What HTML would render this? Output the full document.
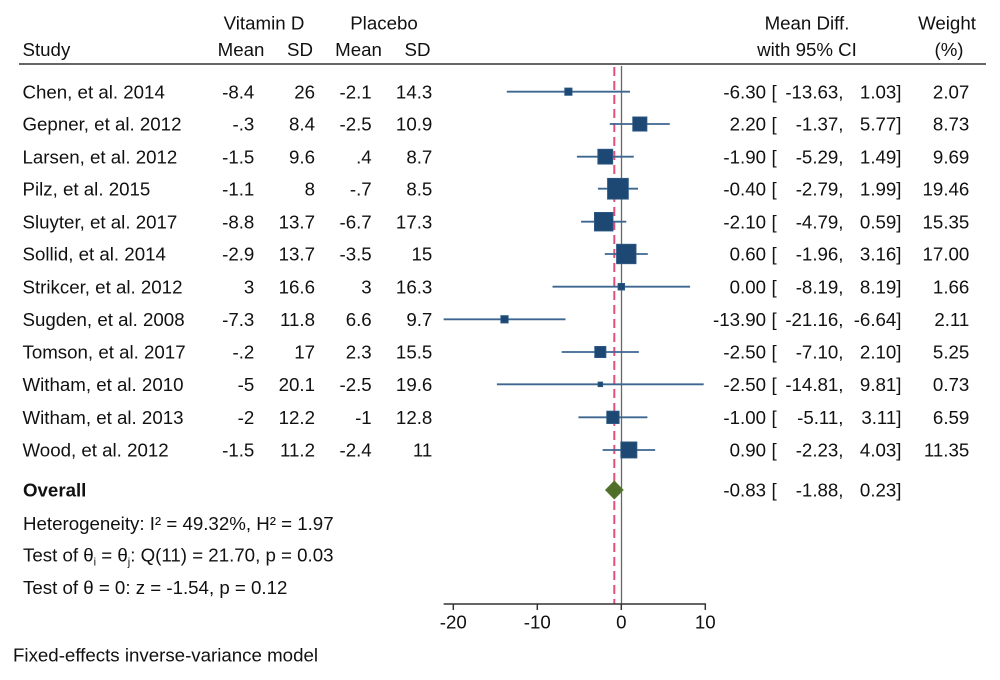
<!DOCTYPE html>
<html><head><meta charset="utf-8"><style>
html,body{margin:0;padding:0;background:#fff;}
svg{display:block;}
text{font-family:"Liberation Sans",Arial,sans-serif;font-size:18.7px;fill:#111;}
</style></head><body>
<svg width="1000" height="680" viewBox="0 0 1000 680" xmlns="http://www.w3.org/2000/svg">
<rect width="1000" height="680" fill="#fff"/>
<!-- headers -->
<text x="264" y="29.5" text-anchor="middle">Vitamin D</text>
<text x="384" y="29.5" text-anchor="middle">Placebo</text>
<text x="22.5" y="56">Study</text>
<text x="241" y="56" text-anchor="middle">Mean</text>
<text x="300" y="56" text-anchor="middle">SD</text>
<text x="358.5" y="56" text-anchor="middle">Mean</text>
<text x="417.5" y="56" text-anchor="middle">SD</text>
<text x="807" y="29.5" text-anchor="middle">Mean Diff.</text>
<text x="807" y="56" text-anchor="middle">with 95% CI</text>
<text x="947" y="29.5" text-anchor="middle">Weight</text>
<text x="949" y="56" text-anchor="middle">(%)</text>
<line x1="19" y1="64" x2="986" y2="64" stroke="#333" stroke-width="1.5"/>

<!-- reference lines -->
<line x1="621.5" y1="66" x2="621.5" y2="604" stroke="#666" stroke-width="1.3"/>
<line x1="614.3" y1="67" x2="614.3" y2="604" stroke="#e2507a" stroke-width="2" stroke-dasharray="9,5"/>

<!-- CI lines -->
<g stroke="#3d6690" stroke-width="1.8">
<line x1="506.8" y1="91.7" x2="630.0" y2="91.7"/>
<line x1="609.8" y1="124" x2="669.8" y2="124"/>
<line x1="576.9" y1="156.7" x2="633.8" y2="156.7"/>
<line x1="597.9" y1="188.7" x2="638.0" y2="188.7"/>
<line x1="581.1" y1="221.7" x2="626.3" y2="221.7"/>
<line x1="604.8" y1="254" x2="647.8" y2="254"/>
<line x1="552.5" y1="286.7" x2="690.1" y2="286.7"/>
<line x1="443.6" y1="319.3" x2="565.5" y2="319.3"/>
<line x1="561.7" y1="352" x2="638.9" y2="352"/>
<line x1="496.9" y1="384.3" x2="703.7" y2="384.3"/>
<line x1="578.4" y1="417.3" x2="647.4" y2="417.3"/>
<line x1="602.6" y1="450" x2="655.2" y2="450"/>
</g>
<!-- boxes -->
<g fill="#1d4873" stroke="#2f5b86" stroke-width="0.8">
<rect x="564.7" y="88.0" width="7.35" height="7.35"/>
<rect x="632.7" y="116.9" width="14.25" height="14.25"/>
<rect x="597.8" y="149.2" width="14.96" height="14.96"/>
<rect x="607.5" y="178.3" width="20.87" height="20.87"/>
<rect x="594.4" y="212.4" width="18.63" height="18.63"/>
<rect x="616.5" y="244.2" width="19.56" height="19.56"/>
<rect x="618.0" y="283.4" width="6.66" height="6.66"/>
<rect x="500.8" y="315.6" width="7.41" height="7.41"/>
<rect x="594.7" y="346.4" width="11.23" height="11.23"/>
<rect x="598.0" y="382.0" width="4.69" height="4.69"/>
<rect x="606.7" y="411.1" width="12.48" height="12.48"/>
<rect x="620.8" y="441.9" width="16.13" height="16.13"/>
</g>
<!-- diamond -->
<polygon points="605.5,490 614.3,481 623.2,490 614.3,499" fill="#4e6e2a" stroke="#5a7a33" stroke-width="0.8"/>

<!-- axis -->
<g stroke="#333" stroke-width="1.5">
<line x1="443.6" y1="604" x2="706" y2="604"/>
<line x1="453.3" y1="604" x2="453.3" y2="610"/>
<line x1="537.3" y1="604" x2="537.3" y2="610"/>
<line x1="621.3" y1="604" x2="621.3" y2="610"/>
<line x1="705.3" y1="604" x2="705.3" y2="610"/>
</g>
<text x="453.3" y="628.5" text-anchor="middle">-20</text>
<text x="537.3" y="628.5" text-anchor="middle">-10</text>
<text x="621.3" y="628.5" text-anchor="middle">0</text>
<text x="705.3" y="628.5" text-anchor="middle">10</text>

<!-- study rows -->
<g>
<text x="22.5" y="98.3">Chen, et al. 2014</text>
<text x="22.5" y="130.6">Gepner, et al. 2012</text>
<text x="22.5" y="163.3">Larsen, et al. 2012</text>
<text x="22.5" y="195.3">Pilz, et al. 2015</text>
<text x="22.5" y="228.3">Sluyter, et al. 2017</text>
<text x="22.5" y="260.6">Sollid, et al. 2014</text>
<text x="22.5" y="293.3">Strikcer, et al. 2012</text>
<text x="22.5" y="325.9">Sugden, et al. 2008</text>
<text x="22.5" y="358.6">Tomson, et al. 2017</text>
<text x="22.5" y="390.9">Witham, et al. 2010</text>
<text x="22.5" y="423.9">Witham, et al. 2013</text>
<text x="22.5" y="456.6">Wood, et al. 2012</text>
</g>
<g text-anchor="end">
<text x="254.3" y="98.3">-8.4</text><text x="315" y="98.3">26</text><text x="371.7" y="98.3">-2.1</text><text x="432.3" y="98.3">14.3</text>
<text x="254.3" y="130.6">-.3</text><text x="315" y="130.6">8.4</text><text x="371.7" y="130.6">-2.5</text><text x="432.3" y="130.6">10.9</text>
<text x="254.3" y="163.3">-1.5</text><text x="315" y="163.3">9.6</text><text x="371.7" y="163.3">.4</text><text x="432.3" y="163.3">8.7</text>
<text x="254.3" y="195.3">-1.1</text><text x="315" y="195.3">8</text><text x="371.7" y="195.3">-.7</text><text x="432.3" y="195.3">8.5</text>
<text x="254.3" y="228.3">-8.8</text><text x="315" y="228.3">13.7</text><text x="371.7" y="228.3">-6.7</text><text x="432.3" y="228.3">17.3</text>
<text x="254.3" y="260.6">-2.9</text><text x="315" y="260.6">13.7</text><text x="371.7" y="260.6">-3.5</text><text x="432.3" y="260.6">15</text>
<text x="254.3" y="293.3">3</text><text x="315" y="293.3">16.6</text><text x="371.7" y="293.3">3</text><text x="432.3" y="293.3">16.3</text>
<text x="254.3" y="325.9">-7.3</text><text x="315" y="325.9">11.8</text><text x="371.7" y="325.9">6.6</text><text x="432.3" y="325.9">9.7</text>
<text x="254.3" y="358.6">-.2</text><text x="315" y="358.6">17</text><text x="371.7" y="358.6">2.3</text><text x="432.3" y="358.6">15.5</text>
<text x="254.3" y="390.9">-5</text><text x="315" y="390.9">20.1</text><text x="371.7" y="390.9">-2.5</text><text x="432.3" y="390.9">19.6</text>
<text x="254.3" y="423.9">-2</text><text x="315" y="423.9">12.2</text><text x="371.7" y="423.9">-1</text><text x="432.3" y="423.9">12.8</text>
<text x="254.3" y="456.6">-1.5</text><text x="315" y="456.6">11.2</text><text x="371.7" y="456.6">-2.4</text><text x="432.3" y="456.6">11</text>
</g>

<!-- right columns -->
<g text-anchor="end">
<text x="766" y="98.3">-6.30</text><text x="843.5" y="98.3">-13.63,</text><text x="901.5" y="98.3">1.03]</text><text x="969.3" y="98.3">2.07</text>
<text x="766" y="130.6">2.20</text><text x="843.5" y="130.6">-1.37,</text><text x="901.5" y="130.6">5.77]</text><text x="969.3" y="130.6">8.73</text>
<text x="766" y="163.3">-1.90</text><text x="843.5" y="163.3">-5.29,</text><text x="901.5" y="163.3">1.49]</text><text x="969.3" y="163.3">9.69</text>
<text x="766" y="195.3">-0.40</text><text x="843.5" y="195.3">-2.79,</text><text x="901.5" y="195.3">1.99]</text><text x="969.3" y="195.3">19.46</text>
<text x="766" y="228.3">-2.10</text><text x="843.5" y="228.3">-4.79,</text><text x="901.5" y="228.3">0.59]</text><text x="969.3" y="228.3">15.35</text>
<text x="766" y="260.6">0.60</text><text x="843.5" y="260.6">-1.96,</text><text x="901.5" y="260.6">3.16]</text><text x="969.3" y="260.6">17.00</text>
<text x="766" y="293.3">0.00</text><text x="843.5" y="293.3">-8.19,</text><text x="901.5" y="293.3">8.19]</text><text x="969.3" y="293.3">1.66</text>
<text x="766" y="325.9">-13.90</text><text x="843.5" y="325.9">-21.16,</text><text x="901.5" y="325.9">-6.64]</text><text x="969.3" y="325.9">2.11</text>
<text x="766" y="358.6">-2.50</text><text x="843.5" y="358.6">-7.10,</text><text x="901.5" y="358.6">2.10]</text><text x="969.3" y="358.6">5.25</text>
<text x="766" y="390.9">-2.50</text><text x="843.5" y="390.9">-14.81,</text><text x="901.5" y="390.9">9.81]</text><text x="969.3" y="390.9">0.73</text>
<text x="766" y="423.9">-1.00</text><text x="843.5" y="423.9">-5.11,</text><text x="901.5" y="423.9">3.11]</text><text x="969.3" y="423.9">6.59</text>
<text x="766" y="456.6">0.90</text><text x="843.5" y="456.6">-2.23,</text><text x="901.5" y="456.6">4.03]</text><text x="969.3" y="456.6">11.35</text>
<text x="766" y="496.6">-0.83</text><text x="843.5" y="496.6">-1.88,</text><text x="901.5" y="496.6">0.23]</text>
</g>
<g>
<text x="771.5" y="98.3">[</text>
<text x="771.5" y="130.6">[</text>
<text x="771.5" y="163.3">[</text>
<text x="771.5" y="195.3">[</text>
<text x="771.5" y="228.3">[</text>
<text x="771.5" y="260.6">[</text>
<text x="771.5" y="293.3">[</text>
<text x="771.5" y="325.9">[</text>
<text x="771.5" y="358.6">[</text>
<text x="771.5" y="390.9">[</text>
<text x="771.5" y="423.9">[</text>
<text x="771.5" y="456.6">[</text>
<text x="771.5" y="496.6">[</text>
</g>

<!-- overall and stats -->
<text x="23" y="496.6" font-weight="bold">Overall</text>
<text x="23" y="529.8">Heterogeneity: I² = 49.32%, H² = 1.97</text>
<text x="23" y="561.6">Test of θ<tspan font-size="11" dy="4">i</tspan><tspan dy="-4"> = θ</tspan><tspan font-size="11" dy="4">j</tspan><tspan dy="-4">: Q(11) = 21.70, p = 0.03</tspan></text>
<text x="23" y="594">Test of θ = 0: z = -1.54, p = 0.12</text>
<text x="13" y="661.6">Fixed-effects inverse-variance model</text>
</svg>
</body></html>
